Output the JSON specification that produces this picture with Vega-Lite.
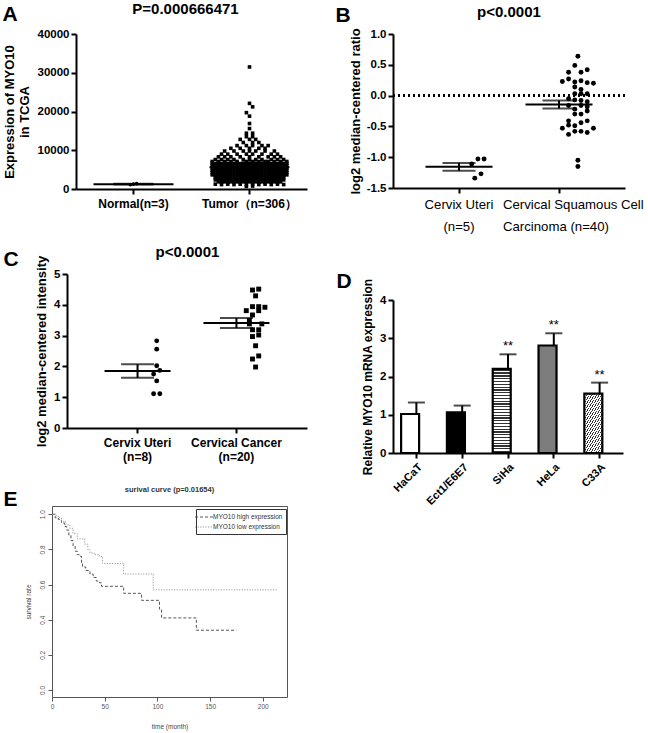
{
"$schema":"https://vega.github.io/schema/vega-lite/v6.json",
"background":"white",
"padding":{"left":2,"top":2,"right":0,"bottom":0},
"config":{
"view":{"stroke":null},
"font":"Liberation Sans",
"axis":{"grid":false,"domainColor":"black","tickColor":"black","labelColor":"black","titleColor":"black","labelFont":"Liberation Sans","titleFont":"Liberation Sans","domainWidth":2,"tickWidth":2,"tickSize":5,"labelFontWeight":"bold","titleFontWeight":"bold","labelFontSize":11.5,"titleFontSize":13,"labelOverlap":false,"labelFlush":false},
"title":{"font":"Liberation Sans","fontWeight":"bold","fontSize":15,"color":"black","anchor":"middle","frame":"group","baseline":"bottom"}
},
"datasets":{
"a":[
{"g":"Normal","v":1100,"s":-1},{"g":"Normal","v":1250,"s":0},{"g":"Normal","v":1380,"s":1},
{"g":"Tumor","v":31500,"s":0},{"g":"Tumor","v":22100,"s":0},{"g":"Tumor","v":21200,"s":1},{"g":"Tumor","v":19700,"s":-1},{"g":"Tumor","v":18800,"s":0},{"g":"Tumor","v":16900,"s":0},{"g":"Tumor","v":15600,"s":0},{"g":"Tumor","v":14400,"s":-1},{"g":"Tumor","v":14400,"s":1},
{"g":"Tumor","v":13500,"s":-1},{"g":"Tumor","v":13500,"s":1},
{"g":"Tumor","v":12800,"s":-3},{"g":"Tumor","v":12800,"s":0},{"g":"Tumor","v":12800,"s":2},
{"g":"Tumor","v":12000,"s":-2},{"g":"Tumor","v":12000,"s":1},{"g":"Tumor","v":12000,"s":3},
{"g":"Tumor","v":11200,"s":-4},{"g":"Tumor","v":11200,"s":-1},{"g":"Tumor","v":11200,"s":1},{"g":"Tumor","v":11200,"s":4},{"g":"Tumor","v":11200,"s":6},
{"g":"Tumor","v":10500,"s":-6},{"g":"Tumor","v":10500,"s":-3},{"g":"Tumor","v":10500,"s":0},{"g":"Tumor","v":10500,"s":3},{"g":"Tumor","v":10500,"s":5},
{"g":"Tumor","v":9800,"s":-8},{"g":"Tumor","v":9800,"s":-5},{"g":"Tumor","v":9800,"s":-2},{"g":"Tumor","v":9800,"s":0},{"g":"Tumor","v":9800,"s":2},{"g":"Tumor","v":9800,"s":5},{"g":"Tumor","v":9800,"s":8},
{"g":"Tumor","v":9000,"s":-9},{"g":"Tumor","v":9000,"s":-7},{"g":"Tumor","v":9000,"s":-4},{"g":"Tumor","v":9000,"s":-1},{"g":"Tumor","v":9000,"s":1},{"g":"Tumor","v":9000,"s":4},{"g":"Tumor","v":9000,"s":7},{"g":"Tumor","v":9000,"s":9},
{"g":"Tumor","v":8300,"s":-10},{"g":"Tumor","v":8300,"s":-8},{"g":"Tumor","v":8300,"s":-6},{"g":"Tumor","v":8300,"s":-3},{"g":"Tumor","v":8300,"s":0},{"g":"Tumor","v":8300,"s":3},{"g":"Tumor","v":8300,"s":6},{"g":"Tumor","v":8300,"s":8},{"g":"Tumor","v":8300,"s":10},
{"g":"Tumor","v":7600,"s":-11},{"g":"Tumor","v":7600,"s":-9},{"g":"Tumor","v":7600,"s":-7},{"g":"Tumor","v":7600,"s":-5},{"g":"Tumor","v":7600,"s":-2},{"g":"Tumor","v":7600,"s":0},{"g":"Tumor","v":7600,"s":2},{"g":"Tumor","v":7600,"s":4},{"g":"Tumor","v":7600,"s":7},{"g":"Tumor","v":7600,"s":9},{"g":"Tumor","v":7600,"s":11},
{"g":"Tumor","v":7100,"s":-12},{"g":"Tumor","v":7100,"s":-10},{"g":"Tumor","v":7100,"s":-8},{"g":"Tumor","v":7100,"s":-6},{"g":"Tumor","v":7100,"s":-4},{"g":"Tumor","v":7100,"s":-1},{"g":"Tumor","v":7100,"s":1},{"g":"Tumor","v":7100,"s":3},{"g":"Tumor","v":7100,"s":5},{"g":"Tumor","v":7100,"s":6},{"g":"Tumor","v":7100,"s":8},{"g":"Tumor","v":7100,"s":10},{"g":"Tumor","v":7100,"s":12},
{"g":"Tumor","v":6650,"s":-12},{"g":"Tumor","v":6550,"s":-11},{"g":"Tumor","v":6650,"s":-10},{"g":"Tumor","v":6550,"s":-9},{"g":"Tumor","v":6650,"s":-8},{"g":"Tumor","v":6550,"s":-7},{"g":"Tumor","v":6650,"s":-6},{"g":"Tumor","v":6550,"s":-5},{"g":"Tumor","v":6650,"s":-4},{"g":"Tumor","v":6550,"s":-3},{"g":"Tumor","v":6650,"s":-2},{"g":"Tumor","v":6550,"s":-1},{"g":"Tumor","v":6650,"s":0},{"g":"Tumor","v":6550,"s":1},{"g":"Tumor","v":6650,"s":2},{"g":"Tumor","v":6550,"s":3},{"g":"Tumor","v":6650,"s":4},{"g":"Tumor","v":6550,"s":5},{"g":"Tumor","v":6650,"s":6},{"g":"Tumor","v":6550,"s":7},{"g":"Tumor","v":6650,"s":8},{"g":"Tumor","v":6550,"s":9},{"g":"Tumor","v":6650,"s":10},{"g":"Tumor","v":6550,"s":11},{"g":"Tumor","v":6650,"s":12},
{"g":"Tumor","v":6050,"s":-12},{"g":"Tumor","v":5950,"s":-11},{"g":"Tumor","v":6050,"s":-10},{"g":"Tumor","v":5950,"s":-9},{"g":"Tumor","v":6050,"s":-8},{"g":"Tumor","v":5950,"s":-7},{"g":"Tumor","v":6050,"s":-6},{"g":"Tumor","v":5950,"s":-5},{"g":"Tumor","v":6050,"s":-4},{"g":"Tumor","v":5950,"s":-3},{"g":"Tumor","v":6050,"s":-2},{"g":"Tumor","v":5950,"s":-1},{"g":"Tumor","v":6050,"s":0},{"g":"Tumor","v":5950,"s":1},{"g":"Tumor","v":6050,"s":2},{"g":"Tumor","v":5950,"s":3},{"g":"Tumor","v":6050,"s":4},{"g":"Tumor","v":5950,"s":5},{"g":"Tumor","v":6050,"s":6},{"g":"Tumor","v":5950,"s":7},{"g":"Tumor","v":6050,"s":8},{"g":"Tumor","v":5950,"s":9},{"g":"Tumor","v":6050,"s":10},{"g":"Tumor","v":5950,"s":11},{"g":"Tumor","v":6050,"s":12},
{"g":"Tumor","v":5450,"s":-12},{"g":"Tumor","v":5350,"s":-11},{"g":"Tumor","v":5450,"s":-10},{"g":"Tumor","v":5350,"s":-9},{"g":"Tumor","v":5450,"s":-8},{"g":"Tumor","v":5350,"s":-7},{"g":"Tumor","v":5450,"s":-6},{"g":"Tumor","v":5350,"s":-5},{"g":"Tumor","v":5450,"s":-4},{"g":"Tumor","v":5350,"s":-3},{"g":"Tumor","v":5450,"s":-2},{"g":"Tumor","v":5350,"s":-1},{"g":"Tumor","v":5450,"s":0},{"g":"Tumor","v":5350,"s":1},{"g":"Tumor","v":5450,"s":2},{"g":"Tumor","v":5350,"s":3},{"g":"Tumor","v":5450,"s":4},{"g":"Tumor","v":5350,"s":5},{"g":"Tumor","v":5450,"s":6},{"g":"Tumor","v":5350,"s":7},{"g":"Tumor","v":5450,"s":8},{"g":"Tumor","v":5350,"s":9},{"g":"Tumor","v":5450,"s":10},{"g":"Tumor","v":5350,"s":11},{"g":"Tumor","v":5450,"s":12},
{"g":"Tumor","v":4850,"s":-12},{"g":"Tumor","v":4750,"s":-11},{"g":"Tumor","v":4850,"s":-10},{"g":"Tumor","v":4750,"s":-9},{"g":"Tumor","v":4850,"s":-8},{"g":"Tumor","v":4750,"s":-7},{"g":"Tumor","v":4850,"s":-6},{"g":"Tumor","v":4750,"s":-5},{"g":"Tumor","v":4850,"s":-4},{"g":"Tumor","v":4750,"s":-3},{"g":"Tumor","v":4850,"s":-2},{"g":"Tumor","v":4750,"s":-1},{"g":"Tumor","v":4850,"s":0},{"g":"Tumor","v":4750,"s":1},{"g":"Tumor","v":4850,"s":2},{"g":"Tumor","v":4750,"s":3},{"g":"Tumor","v":4850,"s":4},{"g":"Tumor","v":4750,"s":5},{"g":"Tumor","v":4850,"s":6},{"g":"Tumor","v":4750,"s":7},{"g":"Tumor","v":4850,"s":8},{"g":"Tumor","v":4750,"s":9},{"g":"Tumor","v":4850,"s":10},{"g":"Tumor","v":4750,"s":11},{"g":"Tumor","v":4850,"s":12},
{"g":"Tumor","v":4250,"s":-12},{"g":"Tumor","v":4150,"s":-11},{"g":"Tumor","v":4250,"s":-10},{"g":"Tumor","v":4150,"s":-9},{"g":"Tumor","v":4250,"s":-8},{"g":"Tumor","v":4150,"s":-7},{"g":"Tumor","v":4250,"s":-6},{"g":"Tumor","v":4150,"s":-5},{"g":"Tumor","v":4250,"s":-4},{"g":"Tumor","v":4150,"s":-3},{"g":"Tumor","v":4250,"s":-2},{"g":"Tumor","v":4150,"s":-1},{"g":"Tumor","v":4250,"s":0},{"g":"Tumor","v":4150,"s":1},{"g":"Tumor","v":4250,"s":2},{"g":"Tumor","v":4150,"s":3},{"g":"Tumor","v":4250,"s":4},{"g":"Tumor","v":4150,"s":5},{"g":"Tumor","v":4250,"s":6},{"g":"Tumor","v":4150,"s":7},{"g":"Tumor","v":4250,"s":8},{"g":"Tumor","v":4150,"s":9},{"g":"Tumor","v":4250,"s":10},{"g":"Tumor","v":4150,"s":11},{"g":"Tumor","v":4250,"s":12},
{"g":"Tumor","v":3650,"s":-12},{"g":"Tumor","v":3550,"s":-11},{"g":"Tumor","v":3650,"s":-10},{"g":"Tumor","v":3550,"s":-9},{"g":"Tumor","v":3650,"s":-8},{"g":"Tumor","v":3550,"s":-7},{"g":"Tumor","v":3650,"s":-6},{"g":"Tumor","v":3550,"s":-5},{"g":"Tumor","v":3650,"s":-4},{"g":"Tumor","v":3550,"s":-3},{"g":"Tumor","v":3650,"s":-2},{"g":"Tumor","v":3550,"s":-1},{"g":"Tumor","v":3650,"s":0},{"g":"Tumor","v":3550,"s":1},{"g":"Tumor","v":3650,"s":2},{"g":"Tumor","v":3550,"s":3},{"g":"Tumor","v":3650,"s":4},{"g":"Tumor","v":3550,"s":5},{"g":"Tumor","v":3650,"s":6},{"g":"Tumor","v":3550,"s":7},{"g":"Tumor","v":3650,"s":8},{"g":"Tumor","v":3550,"s":9},{"g":"Tumor","v":3650,"s":10},{"g":"Tumor","v":3550,"s":11},{"g":"Tumor","v":3650,"s":12},
{"g":"Tumor","v":2950,"s":-11},{"g":"Tumor","v":3050,"s":-10},{"g":"Tumor","v":2950,"s":-9},{"g":"Tumor","v":3050,"s":-8},{"g":"Tumor","v":2950,"s":-7},{"g":"Tumor","v":3050,"s":-6},{"g":"Tumor","v":2950,"s":-5},{"g":"Tumor","v":3050,"s":-4},{"g":"Tumor","v":2950,"s":-3},{"g":"Tumor","v":3050,"s":-2},{"g":"Tumor","v":2950,"s":-1},{"g":"Tumor","v":3050,"s":0},{"g":"Tumor","v":2950,"s":1},{"g":"Tumor","v":3050,"s":2},{"g":"Tumor","v":2950,"s":3},{"g":"Tumor","v":3050,"s":4},{"g":"Tumor","v":2950,"s":5},{"g":"Tumor","v":3050,"s":6},{"g":"Tumor","v":2950,"s":7},{"g":"Tumor","v":3050,"s":8},{"g":"Tumor","v":2950,"s":9},{"g":"Tumor","v":3050,"s":10},{"g":"Tumor","v":2950,"s":11},
{"g":"Tumor","v":2350,"s":-11},{"g":"Tumor","v":2450,"s":-10},{"g":"Tumor","v":2350,"s":-9},{"g":"Tumor","v":2450,"s":-8},{"g":"Tumor","v":2350,"s":-7},{"g":"Tumor","v":2450,"s":-6},{"g":"Tumor","v":2350,"s":-5},{"g":"Tumor","v":2450,"s":-4},{"g":"Tumor","v":2350,"s":-3},{"g":"Tumor","v":2450,"s":-2},{"g":"Tumor","v":2350,"s":-1},{"g":"Tumor","v":2450,"s":0},{"g":"Tumor","v":2350,"s":1},{"g":"Tumor","v":2450,"s":2},{"g":"Tumor","v":2350,"s":3},{"g":"Tumor","v":2450,"s":4},{"g":"Tumor","v":2350,"s":5},{"g":"Tumor","v":2450,"s":6},{"g":"Tumor","v":2350,"s":7},{"g":"Tumor","v":2450,"s":8},{"g":"Tumor","v":2350,"s":9},{"g":"Tumor","v":2450,"s":10},{"g":"Tumor","v":2350,"s":11},
{"g":"Tumor","v":1850,"s":-10},{"g":"Tumor","v":1750,"s":-9},{"g":"Tumor","v":1850,"s":-8},{"g":"Tumor","v":1750,"s":-7},{"g":"Tumor","v":1850,"s":-6},{"g":"Tumor","v":1750,"s":-5},{"g":"Tumor","v":1850,"s":-4},{"g":"Tumor","v":1750,"s":-3},{"g":"Tumor","v":1850,"s":-2},{"g":"Tumor","v":1750,"s":-1},{"g":"Tumor","v":1850,"s":0},{"g":"Tumor","v":1750,"s":1},{"g":"Tumor","v":1850,"s":2},{"g":"Tumor","v":1750,"s":3},{"g":"Tumor","v":1850,"s":4},{"g":"Tumor","v":1750,"s":5},{"g":"Tumor","v":1850,"s":6},{"g":"Tumor","v":1750,"s":7},{"g":"Tumor","v":1850,"s":8},{"g":"Tumor","v":1750,"s":9},{"g":"Tumor","v":1850,"s":10},
{"g":"Tumor","v":1250,"s":-11},{"g":"Tumor","v":1150,"s":-9},{"g":"Tumor","v":1250,"s":-7},{"g":"Tumor","v":1150,"s":-5},{"g":"Tumor","v":1250,"s":-3},{"g":"Tumor","v":1150,"s":-1},{"g":"Tumor","v":1250,"s":1},{"g":"Tumor","v":1150,"s":3},{"g":"Tumor","v":1250,"s":5},{"g":"Tumor","v":1150,"s":7},{"g":"Tumor","v":1250,"s":9},{"g":"Tumor","v":1150,"s":11},
{"g":"Tumor","v":650,"s":-1},{"g":"Tumor","v":750,"s":1}
],
"b":[
{"g":"Cervix Uteri","v":-1.11,"s":-2},{"g":"Cervix Uteri","v":-1.03,"s":0},{"g":"Cervix Uteri","v":-1.03,"s":2},{"g":"Cervix Uteri","v":-1.34,"s":-1},{"g":"Cervix Uteri","v":-1.27,"s":1},
{"g":"Cervical Squamous Cell Carcinoma","v":0.64,"s":0},{"g":"Cervical Squamous Cell Carcinoma","v":0.49,"s":-1},{"g":"Cervical Squamous Cell Carcinoma","v":0.42,"s":3},{"g":"Cervical Squamous Cell Carcinoma","v":0.38,"s":-3},{"g":"Cervical Squamous Cell Carcinoma","v":0.38,"s":1},
{"g":"Cervical Squamous Cell Carcinoma","v":0.27,"s":-3},{"g":"Cervical Squamous Cell Carcinoma","v":0.24,"s":1},{"g":"Cervical Squamous Cell Carcinoma","v":0.23,"s":-5},{"g":"Cervical Squamous Cell Carcinoma","v":0.22,"s":-1},{"g":"Cervical Squamous Cell Carcinoma","v":0.21,"s":3},
{"g":"Cervical Squamous Cell Carcinoma","v":0.2,"s":5},{"g":"Cervical Squamous Cell Carcinoma","v":0.14,"s":-1},{"g":"Cervical Squamous Cell Carcinoma","v":0.1,"s":1},{"g":"Cervical Squamous Cell Carcinoma","v":0.03,"s":-1},{"g":"Cervical Squamous Cell Carcinoma","v":0.03,"s":1},
{"g":"Cervical Squamous Cell Carcinoma","v":0.03,"s":3},{"g":"Cervical Squamous Cell Carcinoma","v":-0.05,"s":-3},{"g":"Cervical Squamous Cell Carcinoma","v":-0.07,"s":-1},{"g":"Cervical Squamous Cell Carcinoma","v":-0.08,"s":1},{"g":"Cervical Squamous Cell Carcinoma","v":-0.1,"s":3},
{"g":"Cervical Squamous Cell Carcinoma","v":-0.16,"s":-3},{"g":"Cervical Squamous Cell Carcinoma","v":-0.16,"s":1},{"g":"Cervical Squamous Cell Carcinoma","v":-0.18,"s":3},{"g":"Cervical Squamous Cell Carcinoma","v":-0.22,"s":-1},{"g":"Cervical Squamous Cell Carcinoma","v":-0.3,"s":-1},
{"g":"Cervical Squamous Cell Carcinoma","v":-0.3,"s":1},{"g":"Cervical Squamous Cell Carcinoma","v":-0.41,"s":-3},{"g":"Cervical Squamous Cell Carcinoma","v":-0.41,"s":3},{"g":"Cervical Squamous Cell Carcinoma","v":-0.44,"s":1},{"g":"Cervical Squamous Cell Carcinoma","v":-0.49,"s":-1},
{"g":"Cervical Squamous Cell Carcinoma","v":-0.53,"s":-5},{"g":"Cervical Squamous Cell Carcinoma","v":-0.53,"s":5},{"g":"Cervical Squamous Cell Carcinoma","v":-0.58,"s":-1},{"g":"Cervical Squamous Cell Carcinoma","v":-0.58,"s":1},{"g":"Cervical Squamous Cell Carcinoma","v":-0.6,"s":3},
{"g":"Cervical Squamous Cell Carcinoma","v":-0.63,"s":-3},{"g":"Cervical Squamous Cell Carcinoma","v":-0.48,"s":-3},{"g":"Cervical Squamous Cell Carcinoma","v":-0.25,"s":3},{"g":"Cervical Squamous Cell Carcinoma","v":-1.05,"s":0},{"g":"Cervical Squamous Cell Carcinoma","v":-1.15,"s":0}
],
"c":[
{"g":"Cervix Uteri","v":2.83,"s":0},{"g":"Cervix Uteri","v":2.56,"s":0},{"g":"Cervix Uteri","v":2.02,"s":0},{"g":"Cervix Uteri","v":1.75,"s":-1},{"g":"Cervix Uteri","v":1.87,"s":1},{"g":"Cervix Uteri","v":1.53,"s":0},{"g":"Cervix Uteri","v":1.11,"s":-1},{"g":"Cervix Uteri","v":1.11,"s":1},
{"g":"Cervical Cancer","v":4.48,"s":-1},{"g":"Cervical Cancer","v":4.51,"s":1},{"g":"Cervical Cancer","v":4.29,"s":0},{"g":"Cervical Cancer","v":3.94,"s":-1},{"g":"Cervical Cancer","v":3.94,"s":1},
{"g":"Cervical Cancer","v":3.92,"s":3},{"g":"Cervical Cancer","v":3.81,"s":-3},{"g":"Cervical Cancer","v":3.81,"s":1},{"g":"Cervical Cancer","v":3.67,"s":-1},{"g":"Cervical Cancer","v":3.49,"s":-2},
{"g":"Cervical Cancer","v":3.38,"s":-2},{"g":"Cervical Cancer","v":3.38,"s":2},{"g":"Cervical Cancer","v":3.19,"s":-1},{"g":"Cervical Cancer","v":3.19,"s":1},{"g":"Cervical Cancer","v":2.97,"s":-1},
{"g":"Cervical Cancer","v":3.02,"s":1},{"g":"Cervical Cancer","v":2.67,"s":0},{"g":"Cervical Cancer","v":2.24,"s":-1},{"g":"Cervical Cancer","v":2.34,"s":1},{"g":"Cervical Cancer","v":1.98,"s":0}
],
"d":[
{"cell":"HaCaT","value":1.02,"upper":1.32,"sig":""},
{"cell":"Ect1/E6E7","value":1.06,"upper":1.24,"sig":""},
{"cell":"SiHa","value":2.2,"upper":2.58,"sig":"**"},
{"cell":"HeLa","value":2.81,"upper":3.13,"sig":"**"},
{"cell":"C33A","value":1.55,"upper":1.84,"sig":"**"}
],
"e":[
{"grp":"MYO10 high expression","t":0,"surv":1},{"grp":"MYO10 high expression","t":3,"surv":0.98},{"grp":"MYO10 high expression","t":6,"surv":0.97},{"grp":"MYO10 high expression","t":9,"surv":0.95},{"grp":"MYO10 high expression","t":12,"surv":0.93},{"grp":"MYO10 high expression","t":14,"surv":0.91},{"grp":"MYO10 high expression","t":16,"surv":0.88},{"grp":"MYO10 high expression","t":18,"surv":0.85},{"grp":"MYO10 high expression","t":20,"surv":0.82},{"grp":"MYO10 high expression","t":22,"surv":0.79},{"grp":"MYO10 high expression","t":24,"surv":0.77},{"grp":"MYO10 high expression","t":27,"surv":0.76},{"grp":"MYO10 high expression","t":28,"surv":0.72},{"grp":"MYO10 high expression","t":29,"surv":0.7},{"grp":"MYO10 high expression","t":32,"surv":0.68},{"grp":"MYO10 high expression","t":36,"surv":0.66},{"grp":"MYO10 high expression","t":39,"surv":0.64},{"grp":"MYO10 high expression","t":42,"surv":0.62},{"grp":"MYO10 high expression","t":45,"surv":0.61},{"grp":"MYO10 high expression","t":47,"surv":0.59},{"grp":"MYO10 high expression","t":68,"surv":0.55},{"grp":"MYO10 high expression","t":85,"surv":0.51},{"grp":"MYO10 high expression","t":102,"surv":0.46},{"grp":"MYO10 high expression","t":104,"surv":0.41},{"grp":"MYO10 high expression","t":137,"surv":0.34},{"grp":"MYO10 high expression","t":175,"surv":0.34},
{"grp":"MYO10 low expression","t":0,"surv":1},{"grp":"MYO10 low expression","t":4,"surv":0.99},{"grp":"MYO10 low expression","t":6,"surv":0.98},{"grp":"MYO10 low expression","t":9,"surv":0.96},{"grp":"MYO10 low expression","t":13,"surv":0.94},{"grp":"MYO10 low expression","t":17,"surv":0.92},{"grp":"MYO10 low expression","t":20,"surv":0.89},{"grp":"MYO10 low expression","t":24,"surv":0.86},{"grp":"MYO10 low expression","t":31,"surv":0.83},{"grp":"MYO10 low expression","t":34,"surv":0.8},{"grp":"MYO10 low expression","t":36,"surv":0.78},{"grp":"MYO10 low expression","t":40,"surv":0.77},{"grp":"MYO10 low expression","t":45,"surv":0.76},{"grp":"MYO10 low expression","t":48,"surv":0.72},{"grp":"MYO10 low expression","t":68,"surv":0.66},{"grp":"MYO10 low expression","t":96,"surv":0.57},{"grp":"MYO10 low expression","t":214,"surv":0.57}
]
},
"hconcat":[
{"concat":[
 {"concat":[
  {"width":255,"height":155,
   "title":{"text":"P=0.000666471","offset":-14,"dx":6},
   "data":{"name":"a"},
   "resolve":{"axis":{"x":"independent"}},
   "layer":[
    {"mark":{"type":"point","filled":true,"size":13,"color":"black","opacity":1},
     "encoding":{
      "x":{"field":"g","type":"nominal","sort":["Normal","Tumor"],"scale":{"range":[24,255],"paddingInner":0.357,"paddingOuter":0.174},
           "axis":{"title":null,"labelAngle":0,"labelFontSize":12,"labelPadding":4,"labelExpr":"datum.value=='Normal'?'Normal(n=3)':'Tumor（n=306）'"}},
      "xOffset":{"field":"s","type":"ordinal","scale":{"type":"point","padding":0,"domain":[-12,-11,-10,-9,-8,-7,-6,-5,-4,-3,-2,-1,0,1,2,3,4,5,6,7,8,9,10,11,12]}},
      "y":{"field":"v","type":"quantitative","title":["Expression of MYO10","in TCGA"],"scale":{"domain":[0,40000],"nice":false},
           "axis":{"offset":-24,"values":[0,10000,20000,30000,40000],"format":"d","labelOverlap":false,"titlePadding":6,"titleLineHeight":15,"labelPadding":2}},
      "shape":{"field":"g","type":"nominal","scale":{"domain":["Normal","Tumor"],"range":["circle","square"]},"legend":null}}},
    {"mark":{"type":"tick","size":80,"thickness":2,"color":"black"},
     "encoding":{
      "x":{"field":"g","type":"nominal","sort":["Normal","Tumor"],"axis":{"orient":"top","title":"A","labels":false,"ticks":false,"domain":false,"titleX":-50,"titleY":-14,"titleAlign":"left","titleBaseline":"alphabetic","titleFontSize":21,"titleAngle":0}},
      "y":{"field":"v","aggregate":"mean","type":"quantitative","title":["Expression of MYO10","in TCGA"],
           "axis":{"offset":-24,"values":[0,10000,20000,30000,40000],"format":"d","labelOverlap":false,"titlePadding":6,"titleLineHeight":15,"labelPadding":2}}}},
    {"mark":{"type":"errorbar","extent":"stderr","ticks":true,"size":40,"thickness":2,"color":"black"},
     "encoding":{
      "x":{"field":"g","type":"nominal","sort":["Normal","Tumor"],"axis":null},
      "y":{"field":"v","type":"quantitative","title":["Expression of MYO10","in TCGA"],
           "axis":{"offset":-24,"values":[0,10000,20000,30000,40000],"format":"d","labelOverlap":false,"titlePadding":6,"titleLineHeight":15,"labelPadding":2}}}}
   ]},
  {"width":255,"height":154,
   "title":{"text":"p<0.0001","offset":-12,"dx":8},
   "data":{"name":"c"},
   "resolve":{"axis":{"x":"independent"}},
   "layer":[
    {"mark":{"type":"point","filled":true,"size":24,"color":"black","opacity":1},
     "encoding":{
      "x":{"field":"g","type":"nominal","sort":["Cervix Uteri","Cervical Cancer"],"scale":{"range":[15,255],"paddingInner":0.633,"paddingOuter":0.53},
           "axis":{"title":null,"labelAngle":0,"labelFontSize":12,"labelLineHeight":14,"labelPadding":4,"labelExpr":"datum.value=='Cervix Uteri'?['Cervix Uteri','(n=8)']:['Cervical Cancer','(n=20)']"}},
      "xOffset":{"field":"s","type":"ordinal","scale":{"type":"point","padding":0,"domain":[-4,-3,-2,-1,0,1,2,3,4]}},
      "y":{"field":"v","type":"quantitative","title":"log2 median-centered intensity","scale":{"domain":[0,5],"nice":false},
           "axis":{"offset":-15,"values":[0,1,2,3,4,5],"labelOverlap":false,"titlePadding":5,"labelPadding":2}},
      "shape":{"field":"g","type":"nominal","scale":{"domain":["Cervix Uteri","Cervical Cancer"],"range":["circle","square"]},"legend":null}}},
    {"mark":{"type":"tick","size":66,"thickness":2,"color":"black"},
     "encoding":{
      "x":{"field":"g","type":"nominal","sort":["Cervix Uteri","Cervical Cancer"],"axis":{"orient":"top","title":"C","labels":false,"ticks":false,"domain":false,"titleX":-49,"titleY":-9,"titleAlign":"left","titleBaseline":"alphabetic","titleFontSize":21,"titleAngle":0}},
      "y":{"field":"v","aggregate":"mean","type":"quantitative","title":"log2 median-centered intensity",
           "axis":{"offset":-15,"values":[0,1,2,3,4,5],"labelOverlap":false,"titlePadding":5,"labelPadding":2}}}},
    {"mark":{"type":"errorbar","extent":"stderr","ticks":true,"size":33,"thickness":2,"color":"black"},
     "encoding":{
      "x":{"field":"g","type":"nominal","sort":["Cervix Uteri","Cervical Cancer"],"axis":null},
      "y":{"field":"v","type":"quantitative","title":"log2 median-centered intensity",
           "axis":{"offset":-15,"values":[0,1,2,3,4,5],"labelOverlap":false,"titlePadding":5,"labelPadding":2}}}}
   ]}
 ],"columns":1,"spacing":36},
 {"width":235,"height":191,
  "view":{"stroke":"#555","strokeWidth":1},
  "title":{"text":"surival curve (p=0.01654)","fontSize":7.5,"color":"#333","offset":-5},
  "data":{"name":"e"},
  "resolve":{"axis":{"x":"independent"}},
  "layer":[
   {"transform":[{"filter":"datum.grp=='MYO10 high expression'"}],
    "mark":{"type":"line","interpolate":"step-after","strokeWidth":1},
    "encoding":{
     "x":{"field":"t","type":"quantitative","scale":{"domain":[0,223],"nice":false,"zero":false},
          "axis":{"title":"time (month)","values":[0,50,100,150,200],"domain":false,"tickSize":4,"tickWidth":1,"tickColor":"#555","labelFontSize":6.5,"labelFontWeight":"normal","labelColor":"#555","labelPadding":2,"titleFontSize":6.5,"titleFontWeight":"normal","titleColor":"#444","titlePadding":14}},
     "y":{"field":"surv","type":"quantitative","title":"survival rate","scale":{"domain":[-0.04,1.047],"nice":false},
          "axis":{"values":[0,0.2,0.4,0.6,0.8,1],"format":".1f","labelOverlap":false,"domain":false,"tickSize":4,"tickWidth":1,"tickColor":"#555","labelFontSize":6.5,"labelFontWeight":"normal","labelColor":"#555","labelAngle":-90,"labelAlign":"center","labelBaseline":"bottom","labelPadding":3,"titleFontSize":6.5,"titleFontWeight":"normal","titleColor":"#444","titlePadding":8}},
     "color":{"field":"grp","type":"nominal","scale":{"domain":["MYO10 high expression","MYO10 low expression"],"range":["#555","#9a9a9a"]},
          "legend":{"orient":"none","legendX":144,"legendY":475,"title":null,"strokeColor":"#333","fillColor":"white","padding":3,"rowPadding":1,"labelFontSize":6.5,"labelColor":"#333","labelFont":"Liberation Sans","symbolType":"M-2,0H2","symbolSize":81,"symbolStrokeWidth":1}},
     "strokeDash":{"field":"grp","type":"nominal","scale":{"domain":["MYO10 high expression","MYO10 low expression"],"range":[[3,2],[1.2,1.4]]},
          "legend":{"orient":"none","legendX":144,"legendY":475,"title":null,"strokeColor":"#333","fillColor":"white","padding":3,"rowPadding":1,"labelFontSize":6.5,"labelColor":"#333","labelFont":"Liberation Sans","symbolType":"M-2,0H2","symbolSize":81,"symbolStrokeWidth":1}}}},
   {"transform":[{"filter":"datum.grp=='MYO10 low expression'"}],
    "mark":{"type":"line","interpolate":"step-after","strokeWidth":1},
    "encoding":{
     "x":{"field":"t","type":"quantitative","axis":{"orient":"top","title":"E","labels":false,"ticks":false,"domain":false,"titleX":-49,"titleY":-1,"titleAlign":"left","titleBaseline":"alphabetic","titleFontSize":21,"titleFontWeight":"bold","titleColor":"black","titleAngle":0}},
     "y":{"field":"surv","type":"quantitative","title":"survival rate",
          "axis":{"values":[0,0.2,0.4,0.6,0.8,1],"format":".1f","labelOverlap":false,"domain":false,"tickSize":4,"tickWidth":1,"tickColor":"#555","labelFontSize":6.5,"labelFontWeight":"normal","labelColor":"#555","labelAngle":-90,"labelAlign":"center","labelBaseline":"bottom","labelPadding":3,"titleFontSize":6.5,"titleFontWeight":"normal","titleColor":"#444","titlePadding":8}},
     "color":{"field":"grp","type":"nominal"},
     "strokeDash":{"field":"grp","type":"nominal"}}}
  ]}
],"columns":1,"spacing":23},
{"concat":[
 {"width":232,"height":154,
  "title":{"text":"p<0.0001","offset":-16},
  "data":{"name":"b"},
  "resolve":{"axis":{"x":"independent"}},
  "layer":[
   {"mark":{"type":"rule","strokeDash":[2,3],"strokeWidth":1.5,"color":"black"},
    "encoding":{"y":{"datum":0,"type":"quantitative","title":"log2 median-centered ratio",
          "axis":{"values":[-1.5,-1,-0.5,0,0.5,1],"labelOverlap":false,"labelExpr":"replace(format(datum.value,'.1f'),'−','-')","titlePadding":4,"labelPadding":2}}}},
   {"mark":{"type":"point","filled":true,"size":24,"color":"black","opacity":1},
    "encoding":{
     "x":{"field":"g","type":"nominal","sort":["Cervix Uteri","Cervical Squamous Cell Carcinoma"],"scale":{"paddingInner":0.632,"paddingOuter":0.476},
          "axis":{"title":null,"labelAngle":0,"labelFontSize":13.2,"labelFontWeight":"normal","labelLineHeight":22,"labelPadding":5,
                  "labelAlign":{"condition":{"test":"datum.value=='Cervical Squamous Cell Carcinoma'","value":"left"},"value":"center"},
                  "labelOffset":{"condition":{"test":"datum.value=='Cervical Squamous Cell Carcinoma'","value":-56},"value":0},
                  "labelExpr":"datum.value=='Cervix Uteri'?['Cervix Uteri','(n=5)']:['Cervical Squamous Cell','Carcinoma  (n=40)']"}},
     "xOffset":{"field":"s","type":"ordinal","scale":{"type":"point","padding":0,"domain":[-4,-3,-2,-1,0,1,2,3,4]}},
     "y":{"field":"v","type":"quantitative","title":"log2 median-centered ratio","scale":{"domain":[-1.5,1],"nice":false},
          "axis":{"values":[-1.5,-1,-0.5,0,0.5,1],"labelOverlap":false,"labelExpr":"replace(format(datum.value,'.1f'),'−','-')","titlePadding":4,"labelPadding":2}},
     "shape":{"field":"g","type":"nominal","scale":{"domain":["Cervix Uteri","Cervical Squamous Cell Carcinoma"],"range":["circle","square"]},"legend":null}}},
   {"mark":{"type":"tick","size":67,"thickness":2,"color":"black"},
    "encoding":{
     "x":{"field":"g","type":"nominal","sort":["Cervix Uteri","Cervical Squamous Cell Carcinoma"],"axis":{"orient":"top","title":"B","labels":false,"ticks":false,"domain":false,"titleX":-58,"titleY":-13,"titleAlign":"left","titleBaseline":"alphabetic","titleFontSize":21,"titleAngle":0}},
     "y":{"field":"v","aggregate":"mean","type":"quantitative","title":"log2 median-centered ratio",
          "axis":{"values":[-1.5,-1,-0.5,0,0.5,1],"labelOverlap":false,"labelExpr":"replace(format(datum.value,'.1f'),'−','-')","titlePadding":4,"labelPadding":2}}}},
   {"mark":{"type":"errorbar","extent":"stderr","ticks":true,"size":33,"thickness":2,"color":"black"},
    "encoding":{
     "x":{"field":"g","type":"nominal","sort":["Cervix Uteri","Cervical Squamous Cell Carcinoma"],"axis":null},
     "y":{"field":"v","type":"quantitative","title":"log2 median-centered ratio",
          "axis":{"values":[-1.5,-1,-0.5,0,0.5,1],"labelOverlap":false,"labelExpr":"replace(format(datum.value,'.1f'),'−','-')","titlePadding":4,"labelPadding":2}}}}
  ]},
 {"width":230,"height":153,
  "data":{"name":"d"},
  "resolve":{"axis":{"x":"independent"}},
  "layer":[
   {"mark":{"type":"bar","stroke":"black","strokeWidth":2.2},
    "encoding":{
     "x":{"field":"cell","type":"nominal","sort":["HaCaT","Ect1/E6E7","SiHa","HeLa","C33A"],"scale":{"paddingInner":0.333,"paddingOuter":0.177},
          "axis":{"title":null,"labelAngle":-45,"labelFontSize":11,"labelPadding":3}},
     "y":{"field":"value","type":"quantitative","title":"Relative MYO10 mRNA expression","scale":{"domain":[0,4],"nice":false},
          "axis":{"values":[0,1,2,3,4],"labelOverlap":false,"titleFontSize":12,"titlePadding":5,"labelPadding":2}},
     "fill":{"condition":[
       {"test":"datum.cell=='Ect1/E6E7'","value":"black"},
       {"test":"datum.cell=='HeLa'","value":"#7d7d7d"},
       {"test":"datum.cell=='SiHa'","value":{"gradient":"linear","x1":0,"y1":0,"x2":0,"y2":1,"stops":[
{"offset":0,"color":"#fff"},
{"offset":0.010,"color":"#fff"},{"offset":0.010,"color":"#333"},{"offset":0.025,"color":"#333"},{"offset":0.025,"color":"#fff"},
{"offset":0.043,"color":"#fff"},{"offset":0.043,"color":"#333"},{"offset":0.058,"color":"#333"},{"offset":0.058,"color":"#fff"},
{"offset":0.077,"color":"#fff"},{"offset":0.077,"color":"#333"},{"offset":0.092,"color":"#333"},{"offset":0.092,"color":"#fff"},
{"offset":0.110,"color":"#fff"},{"offset":0.110,"color":"#333"},{"offset":0.125,"color":"#333"},{"offset":0.125,"color":"#fff"},
{"offset":0.143,"color":"#fff"},{"offset":0.143,"color":"#333"},{"offset":0.158,"color":"#333"},{"offset":0.158,"color":"#fff"},
{"offset":0.177,"color":"#fff"},{"offset":0.177,"color":"#333"},{"offset":0.192,"color":"#333"},{"offset":0.192,"color":"#fff"},
{"offset":0.210,"color":"#fff"},{"offset":0.210,"color":"#333"},{"offset":0.225,"color":"#333"},{"offset":0.225,"color":"#fff"},
{"offset":0.243,"color":"#fff"},{"offset":0.243,"color":"#333"},{"offset":0.258,"color":"#333"},{"offset":0.258,"color":"#fff"},
{"offset":0.277,"color":"#fff"},{"offset":0.277,"color":"#333"},{"offset":0.292,"color":"#333"},{"offset":0.292,"color":"#fff"},
{"offset":0.310,"color":"#fff"},{"offset":0.310,"color":"#333"},{"offset":0.325,"color":"#333"},{"offset":0.325,"color":"#fff"},
{"offset":0.343,"color":"#fff"},{"offset":0.343,"color":"#333"},{"offset":0.358,"color":"#333"},{"offset":0.358,"color":"#fff"},
{"offset":0.377,"color":"#fff"},{"offset":0.377,"color":"#333"},{"offset":0.392,"color":"#333"},{"offset":0.392,"color":"#fff"},
{"offset":0.410,"color":"#fff"},{"offset":0.410,"color":"#333"},{"offset":0.425,"color":"#333"},{"offset":0.425,"color":"#fff"},
{"offset":0.443,"color":"#fff"},{"offset":0.443,"color":"#333"},{"offset":0.458,"color":"#333"},{"offset":0.458,"color":"#fff"},
{"offset":0.477,"color":"#fff"},{"offset":0.477,"color":"#333"},{"offset":0.492,"color":"#333"},{"offset":0.492,"color":"#fff"},
{"offset":0.510,"color":"#fff"},{"offset":0.510,"color":"#333"},{"offset":0.525,"color":"#333"},{"offset":0.525,"color":"#fff"},
{"offset":0.543,"color":"#fff"},{"offset":0.543,"color":"#333"},{"offset":0.558,"color":"#333"},{"offset":0.558,"color":"#fff"},
{"offset":0.577,"color":"#fff"},{"offset":0.577,"color":"#333"},{"offset":0.592,"color":"#333"},{"offset":0.592,"color":"#fff"},
{"offset":0.610,"color":"#fff"},{"offset":0.610,"color":"#333"},{"offset":0.625,"color":"#333"},{"offset":0.625,"color":"#fff"},
{"offset":0.643,"color":"#fff"},{"offset":0.643,"color":"#333"},{"offset":0.658,"color":"#333"},{"offset":0.658,"color":"#fff"},
{"offset":0.677,"color":"#fff"},{"offset":0.677,"color":"#333"},{"offset":0.692,"color":"#333"},{"offset":0.692,"color":"#fff"},
{"offset":0.710,"color":"#fff"},{"offset":0.710,"color":"#333"},{"offset":0.725,"color":"#333"},{"offset":0.725,"color":"#fff"},
{"offset":0.743,"color":"#fff"},{"offset":0.743,"color":"#333"},{"offset":0.758,"color":"#333"},{"offset":0.758,"color":"#fff"},
{"offset":0.777,"color":"#fff"},{"offset":0.777,"color":"#333"},{"offset":0.792,"color":"#333"},{"offset":0.792,"color":"#fff"},
{"offset":0.810,"color":"#fff"},{"offset":0.810,"color":"#333"},{"offset":0.825,"color":"#333"},{"offset":0.825,"color":"#fff"},
{"offset":0.843,"color":"#fff"},{"offset":0.843,"color":"#333"},{"offset":0.858,"color":"#333"},{"offset":0.858,"color":"#fff"},
{"offset":0.877,"color":"#fff"},{"offset":0.877,"color":"#333"},{"offset":0.892,"color":"#333"},{"offset":0.892,"color":"#fff"},
{"offset":0.910,"color":"#fff"},{"offset":0.910,"color":"#333"},{"offset":0.925,"color":"#333"},{"offset":0.925,"color":"#fff"},
{"offset":0.943,"color":"#fff"},{"offset":0.943,"color":"#333"},{"offset":0.958,"color":"#333"},{"offset":0.958,"color":"#fff"},
{"offset":0.977,"color":"#fff"},{"offset":0.977,"color":"#333"},{"offset":0.992,"color":"#333"},{"offset":0.992,"color":"#fff"},
{"offset":1,"color":"#fff"}]}},
       {"test":"datum.cell=='C33A'","value":{"gradient":"linear","x1":0,"y1":0,"x2":0.6,"y2":1.2,"stops":[
{"offset":0,"color":"#fff"},
{"offset":0.010,"color":"#fff"},{"offset":0.010,"color":"#333"},{"offset":0.025,"color":"#333"},{"offset":0.025,"color":"#fff"},
{"offset":0.055,"color":"#fff"},{"offset":0.055,"color":"#333"},{"offset":0.070,"color":"#333"},{"offset":0.070,"color":"#fff"},
{"offset":0.100,"color":"#fff"},{"offset":0.100,"color":"#333"},{"offset":0.115,"color":"#333"},{"offset":0.115,"color":"#fff"},
{"offset":0.145,"color":"#fff"},{"offset":0.145,"color":"#333"},{"offset":0.160,"color":"#333"},{"offset":0.160,"color":"#fff"},
{"offset":0.190,"color":"#fff"},{"offset":0.190,"color":"#333"},{"offset":0.205,"color":"#333"},{"offset":0.205,"color":"#fff"},
{"offset":0.235,"color":"#fff"},{"offset":0.235,"color":"#333"},{"offset":0.250,"color":"#333"},{"offset":0.250,"color":"#fff"},
{"offset":0.280,"color":"#fff"},{"offset":0.280,"color":"#333"},{"offset":0.295,"color":"#333"},{"offset":0.295,"color":"#fff"},
{"offset":0.325,"color":"#fff"},{"offset":0.325,"color":"#333"},{"offset":0.340,"color":"#333"},{"offset":0.340,"color":"#fff"},
{"offset":0.370,"color":"#fff"},{"offset":0.370,"color":"#333"},{"offset":0.385,"color":"#333"},{"offset":0.385,"color":"#fff"},
{"offset":0.415,"color":"#fff"},{"offset":0.415,"color":"#333"},{"offset":0.430,"color":"#333"},{"offset":0.430,"color":"#fff"},
{"offset":0.460,"color":"#fff"},{"offset":0.460,"color":"#333"},{"offset":0.475,"color":"#333"},{"offset":0.475,"color":"#fff"},
{"offset":0.505,"color":"#fff"},{"offset":0.505,"color":"#333"},{"offset":0.520,"color":"#333"},{"offset":0.520,"color":"#fff"},
{"offset":0.550,"color":"#fff"},{"offset":0.550,"color":"#333"},{"offset":0.565,"color":"#333"},{"offset":0.565,"color":"#fff"},
{"offset":0.595,"color":"#fff"},{"offset":0.595,"color":"#333"},{"offset":0.610,"color":"#333"},{"offset":0.610,"color":"#fff"},
{"offset":0.640,"color":"#fff"},{"offset":0.640,"color":"#333"},{"offset":0.655,"color":"#333"},{"offset":0.655,"color":"#fff"},
{"offset":0.685,"color":"#fff"},{"offset":0.685,"color":"#333"},{"offset":0.700,"color":"#333"},{"offset":0.700,"color":"#fff"},
{"offset":0.730,"color":"#fff"},{"offset":0.730,"color":"#333"},{"offset":0.745,"color":"#333"},{"offset":0.745,"color":"#fff"},
{"offset":0.775,"color":"#fff"},{"offset":0.775,"color":"#333"},{"offset":0.790,"color":"#333"},{"offset":0.790,"color":"#fff"},
{"offset":0.820,"color":"#fff"},{"offset":0.820,"color":"#333"},{"offset":0.835,"color":"#333"},{"offset":0.835,"color":"#fff"},
{"offset":0.865,"color":"#fff"},{"offset":0.865,"color":"#333"},{"offset":0.880,"color":"#333"},{"offset":0.880,"color":"#fff"},
{"offset":0.910,"color":"#fff"},{"offset":0.910,"color":"#333"},{"offset":0.925,"color":"#333"},{"offset":0.925,"color":"#fff"},
{"offset":0.955,"color":"#fff"},{"offset":0.955,"color":"#333"},{"offset":0.970,"color":"#333"},{"offset":0.970,"color":"#fff"},
{"offset":1,"color":"#fff"}]}}
      ],"value":"white"}}},
   {"mark":{"type":"rule","strokeWidth":2,"color":"black"},
    "encoding":{
     "x":{"field":"cell","type":"nominal","sort":["HaCaT","Ect1/E6E7","SiHa","HeLa","C33A"],"axis":{"orient":"top","title":"D","labels":false,"ticks":false,"domain":false,"titleX":-57,"titleY":-13,"titleAlign":"left","titleBaseline":"alphabetic","titleFontSize":21,"titleAngle":0}},
     "y":{"field":"value","type":"quantitative","title":"Relative MYO10 mRNA expression",
          "axis":{"values":[0,1,2,3,4],"labelOverlap":false,"titleFontSize":12,"titlePadding":5,"labelPadding":2}},
     "y2":{"field":"upper"}}},
   {"mark":{"type":"tick","size":17,"thickness":2,"color":"black"},
    "encoding":{
     "x":{"field":"cell","type":"nominal","sort":["HaCaT","Ect1/E6E7","SiHa","HeLa","C33A"],"axis":null},
     "y":{"field":"upper","type":"quantitative","title":"Relative MYO10 mRNA expression",
          "axis":{"values":[0,1,2,3,4],"labelOverlap":false,"titleFontSize":12,"titlePadding":5,"labelPadding":2}}}},
   {"mark":{"type":"text","dy":-4,"baseline":"alphabetic","fontSize":13,"font":"Liberation Sans","color":"black"},
    "encoding":{
     "x":{"field":"cell","type":"nominal","sort":["HaCaT","Ect1/E6E7","SiHa","HeLa","C33A"],"axis":null},
     "y":{"field":"upper","type":"quantitative","title":"Relative MYO10 mRNA expression",
          "axis":{"values":[0,1,2,3,4],"labelOverlap":false,"titleFontSize":12,"titlePadding":5,"labelPadding":2}},
     "text":{"field":"sig"}}}
  ]}
],"columns":1,"spacing":37}
],
"spacing":28
}
